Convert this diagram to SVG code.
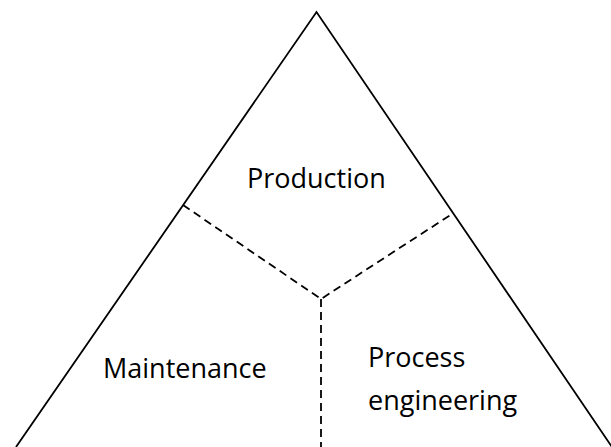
<svg xmlns="http://www.w3.org/2000/svg" width="611" height="447" viewBox="0 0 611 447">
<style>
.edge{fill:none;stroke:#000;stroke-width:1.8}
.dash{fill:none;stroke:#000;stroke-width:1.8;stroke-dasharray:8 5}
.lbl{font-family:"Open Sans","Liberation Sans",sans-serif;font-size:27px;fill:#000}
</style>
<rect width="611" height="447" fill="#fff"/>
<g id="triangle">
<polyline class="edge" points="16,447 316.5,12 612,447"/>
</g>
<g id="connectors">
<polyline class="dash" points="183,205 321,299 452,214"/>
<line class="dash" x1="321" y1="299" x2="321" y2="447"/>
</g>
<g id="production"><text class="lbl" x="247" y="188">Production</text></g>
<g id="maintenance"><text class="lbl" x="103" y="378">Maintenance</text></g>
<g id="process"><text class="lbl" x="368" y="367">Process</text><text class="lbl" x="368" y="410">engineering</text></g>
</svg>
